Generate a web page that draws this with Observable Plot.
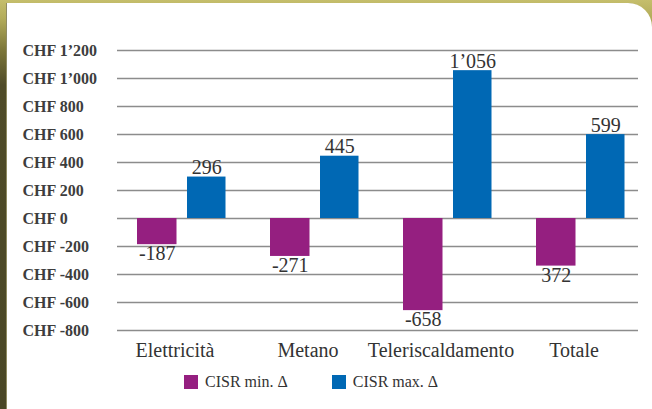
<!DOCTYPE html>
<html><head><meta charset="utf-8">
<script src="https://cdn.jsdelivr.net/npm/d3@7"></script>
<script src="https://cdn.jsdelivr.net/npm/@observablehq/plot@0.6"></script>
<style>
html,body{margin:0;padding:0;}
body{width:652px;height:409px;overflow:hidden;position:relative;
  background:linear-gradient(to bottom,#c5be6c 0px,#b3ac5a 18px,#7c7639 50px,#4f4b28 85px,#4a4726 409px);}
#panel{position:absolute;left:7px;top:3px;width:645px;height:430px;background:#fff;
  border-top-right-radius:24px;box-shadow:-1px 0 0 #8f8b62;}
#chart{position:absolute;left:0;top:0;}
#legend{position:absolute;left:184px;top:373px;font-family:"Liberation Serif",serif;font-size:16px;color:#333;display:flex;align-items:center;}
#legend .item{display:flex;align-items:center;margin-right:44px;}
#legend .sw{width:14px;height:14px;margin-right:7px;}
</style>
</head><body>
<div id="panel"></div>
<div id="chart"></div>
<div id="legend"></div>
<script>
const categories = ["Elettricità", "Metano", "Teleriscaldamento", "Totale"];
const series = ["CISR min. Δ", "CISR max. Δ"];
const minValues = [-187, -271, -658, -340];
const maxValues = [296, 445, 1056, 599];
const minLabels = ["-187", "-271", "-658", "372"];
const maxLabels = ["296", "445", "1’056", "599"];
const yTicks = [-800, -600, -400, -200, 0, 200, 400, 600, 800, 1000, 1200];
const colors = ["#951f80", "#0068b4"];

const rows = categories.flatMap((c, i) => [
  {cat: c, series: series[0], value: minValues[i], label: minLabels[i]},
  {cat: c, series: series[1], value: maxValues[i], label: maxLabels[i]}
]);
const minRows = rows.filter(d => d.series === series[0]);
const maxRows = rows.filter(d => d.series === series[1]);

const loc = d3.formatLocale({decimal: ".", thousands: "’", grouping: [3], currency: ["", ""], minus: "-"});
const num = loc.format(",d");
const tickFmt = d => "CHF " + num(d);

const barMin = {insetLeft: 22, insetRight: 71.5};
const barMax = {insetLeft: 72, insetRight: 22.5};

const chart = Plot.plot({
  width: 652, height: 360,
  marginLeft: 117, marginRight: 14, marginTop: 50, marginBottom: 30,
  style: {fontFamily: "'Liberation Serif', serif", fontSize: "20px", color: "#333", background: "transparent", overflow: "visible"},
  x: {domain: categories, range: [114, 647.5], padding: 0, label: null},
  y: {domain: [-800, 1200], label: null},
  color: {domain: series, range: colors},
  marks: [
    Plot.ruleY(yTicks, {stroke: "#8c8c8c", strokeWidth: 1.5}),
    Plot.axisY(yTicks, {tickSize: 0, tickPadding: 95, textAnchor: "start", tickFormat: tickFmt,
      fontSize: 16, fontWeight: "bold", fill: "#3d3d3d", label: null}),
    Plot.axisX({tickSize: 0, tickPadding: 12, dx: -7, fontSize: 20, fill: "#333", label: null}),
    Plot.barY(minRows, {x: "cat", y: "value", fill: "series", ...barMin}),
    Plot.barY(maxRows, {x: "cat", y: "value", fill: "series", ...barMax}),
    Plot.text(minRows, {x: "cat", y: "value", text: "label", dx: -24.75,
      lineAnchor: "top", dy: 1.5, fill: "#333", fontSize: 20}),
    Plot.text(maxRows, {x: "cat", y: "value", text: "label", dx: 24.75,
      lineAnchor: "bottom", dy: -3, fill: "#333", fontSize: 20})
  ]
});
document.getElementById("chart").appendChild(chart);

const legend = document.getElementById("legend");
series.forEach((s) => {
  const item = document.createElement("div");
  item.className = "item";
  const sw = document.createElement("div");
  sw.className = "sw";
  sw.style.background = chart.scale("color").apply(s);
  const t = document.createElement("span");
  t.textContent = s;
  item.append(sw, t);
  legend.append(item);
});
</script>
</body></html>
